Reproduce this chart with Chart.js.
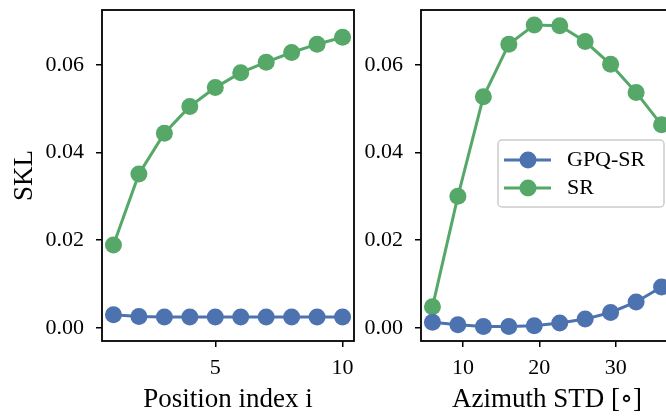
<!DOCTYPE html>
<html><head><meta charset="utf-8">
<script src="https://cdn.jsdelivr.net/npm/chart.js@4.4.0/dist/chart.umd.min.js"></script>
<style>
html,body{margin:0;padding:0;background:#fff;overflow:hidden;width:666px;height:416px;position:relative}
#wrapL{position:absolute;left:0;top:0;width:360px;height:416px}
#wrapR{position:absolute;left:360px;top:0;width:330px;height:416px}
</style></head><body>
<div id="wrapL"><canvas id="left" width="360" height="416"></canvas></div>
<div id="wrapR"><canvas id="right" width="330" height="416"></canvas></div>
<script>
// left panel: SKL vs position index
const posIndex = [1,2,3,4,5,6,7,8,9,10]
const posGPQ = [0.0030,0.0026,0.0025,0.0025,0.0025,0.0025,0.0025,0.0025,0.0025,0.0025]
const posSR = [0.0189,0.0351,0.0444,0.0505,0.0548,0.0582,0.0606,0.0628,0.0647,0.0663]
// right panel: SKL vs azimuth std (deg)
const azStd = [6,9.33,12.67,16,19.33,22.67,26,29.33,32.67,36]
const azGPQ = [0.0013,0.0007,0.0003,0.0003,0.0005,0.0011,0.0020,0.0035,0.0059,0.0093]
const azSR = [0.0048,0.0300,0.0527,0.0647,0.0691,0.0689,0.0653,0.0601,0.0537,0.0463]
const yTicks = [0,0.02,0.04,0.06]
const posTicks = [5,10]
const azTicks = [10,20,30]
const seriesNames = ['GPQ-SR','SR']
const colors = ['#4c72b0','#55a868']

const fam = '"Liberation Serif", "DejaVu Serif", serif'

function ds(i, xs, ys){
  return { label: seriesNames[i], data: xs.map((x,k)=>({x, y: ys[k]})), borderColor: colors[i], backgroundColor: colors[i],
    borderWidth: 3, pointRadius: 8.5, pointHoverRadius: 8.5, pointBorderWidth: 0, tension: 0, clip: 12 }
}
const gridOpts = { drawOnChartArea:false, drawTicks:true, tickLength:6, color:'#000', lineWidth:1.5 }
function noPad(s){ s.paddingTop = 0; s.paddingBottom = 0; s.paddingLeft = 0; s.paddingRight = 0 }
function xScale(min, max, ticks, title){
  return { type:'linear', min, max,
    afterFit: s=>{ s.height = 75; noPad(s) },
    afterBuildTicks: s=>{ s.ticks = ticks.map(v=>({value:v})) },
    border:{display:false}, grid: gridOpts,
    ticks:{ color:'#000', font:{family:fam, size:22}, padding:8, maxRotation:0, autoSkip:false, callback: v=>String(v) },
    title:{ display:true, text:title, color:'#000', font:{family:fam, size:27, lineHeight:1.2}, padding:{top:0,bottom:0} } }
}
function yScale(width, title){
  return { type:'linear', min:-0.003, max:0.0725,
    afterFit: s=>{ s.width = width; noPad(s) },
    afterBuildTicks: s=>{ s.ticks = yTicks.map(v=>({value:v})) },
    border:{display:false}, grid: gridOpts,
    ticks:{ color:'#000', font:{family:fam, size:22}, padding:12, callback: v=>v.toFixed(2) },
    title:{ display: !!title, text:title||'', color:'#000', font:{family:fam, size:27, lineHeight:1.2}, padding:{top:9,bottom:0} } }
}
const frame = { id:'frame', afterDraw(c){
  const a = c.chartArea, ctx = c.ctx
  ctx.save(); ctx.strokeStyle='#000'; ctx.lineWidth=1.8
  ctx.strokeRect(a.left, a.top, a.right-a.left, a.bottom-a.top); ctx.restore()
}}
const legendBox = { id:'legendBox', afterDraw(c){
  const a = c.chartArea, ctx = c.ctx
  const w = 166, h = 67, x = a.right-9-w, y = (a.top+a.bottom)/2 - h/2 - 2
  ctx.save()
  ctx.fillStyle='rgba(255,255,255,0.8)'; ctx.strokeStyle='#cccccc'; ctx.lineWidth=1.5
  ctx.beginPath()
  if(ctx.roundRect) ctx.roundRect(x,y,w,h,4); else ctx.rect(x,y,w,h)
  ctx.fill(); ctx.stroke()
  c.data.datasets.forEach((d,i)=>{
    const cy = y+20+i*28
    ctx.strokeStyle=d.borderColor; ctx.lineWidth=d.borderWidth
    ctx.beginPath(); ctx.moveTo(x+6,cy); ctx.lineTo(x+53,cy); ctx.stroke()
    ctx.fillStyle=d.backgroundColor; ctx.beginPath(); ctx.arc(x+30,cy,8.5,0,Math.PI*2); ctx.fill()
    ctx.fillStyle='#000'; ctx.font='22px '+fam; ctx.textBaseline='middle'; ctx.textAlign='left'
    ctx.fillText(d.label, x+69, cy)
  })
  ctx.restore()
}}
const common = { responsive:false, devicePixelRatio:1, animation:false, events:[],
  plugins:{ legend:{display:false}, tooltip:{enabled:false} } }

new Chart(document.getElementById('left'), {
  type:'line',
  data:{ datasets:[ ds(0,posIndex,posGPQ), ds(1,posIndex,posSR) ] },
  options:{ ...common, layout:{ autoPadding:false, padding:{ top:10, right:6, left:0, bottom:0 } },
    scales:{ x: xScale(0.55, 10.45, posTicks, 'Position index i'), y: yScale(102, 'SKL') } },
  plugins:[frame]
})
new Chart(document.getElementById('right'), {
  type:'line',
  data:{ datasets:[ ds(0,azStd,azGPQ), ds(1,azStd,azSR) ] },
  options:{ ...common, layout:{ autoPadding:false, padding:{ top:10, right:17, left:0, bottom:0 } },
    scales:{ x: xScale(4.5, 37.5, azTicks, 'Azimuth STD [∘]'), y: yScale(61) } },
  plugins:[frame, legendBox]
})
</script>
</body></html>
